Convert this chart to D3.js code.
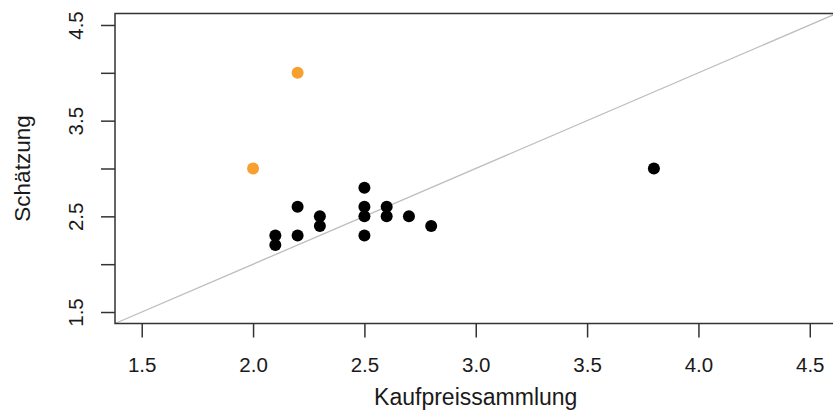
<!DOCTYPE html>
<html>
<head>
<meta charset="utf-8">
<script src="https://cdn.jsdelivr.net/npm/d3@7"></script>
<style>
  body { margin: 0; background: #fff; }
  text { font-family: "Liberation Sans", Arial, Helvetica, sans-serif; fill: #1a1a1a; }
</style>
</head>
<body>
<div class="chart"></div>
<script>
// Kaufpreissammlung vs. Schätzung
var kaufpreis  = [2.1, 2.1, 2.2, 2.2, 2.3, 2.3, 2.5, 2.5, 2.5, 2.5, 2.6, 2.6, 2.7, 2.8, 3.8];
var schaetzung = [2.3, 2.2, 2.6, 2.3, 2.5, 2.4, 2.8, 2.6, 2.5, 2.3, 2.6, 2.5, 2.5, 2.4, 3.0];

// highlighted (orange) points
var kaufpreisHi  = [2.0, 2.2];
var schaetzungHi = [3.0, 4.0];

var xTicks = [1.5, 2.0, 2.5, 3.0, 3.5, 4.0, 4.5];
var yTicks = [1.5, 2.0, 2.5, 3.0, 3.5, 4.0, 4.5];
var yLabels = [1.5, 2.5, 3.5, 4.5];

var svgWidth = 833;
var svgHeight = 412;

var margin = { top: 13.5, right: -3.5, bottom: 88.5, left: 115 };
var width = svgWidth - margin.left - margin.right;
var height = svgHeight - margin.top - margin.bottom;

var svg = d3.select(".chart")
  .append("svg")
  .attr("width", svgWidth)
  .attr("height", svgHeight);

var chartGroup = svg.append("g")
  .attr("transform", `translate(${margin.left}, ${margin.top})`);

// R style limits: 4% padding round 1.5 .. 4.5
var xScale = d3.scaleLinear().domain([1.38, 4.62]).range([0, width]);
var yScale = d3.scaleLinear().domain([1.38, 4.62]).range([height, 0]);

// diagonal y = x
chartGroup.append("line")
  .attr("x1", xScale(1.38))
  .attr("y1", yScale(1.38))
  .attr("x2", xScale(4.62))
  .attr("y2", yScale(4.62))
  .attr("stroke", "#bdbdbd")
  .attr("stroke-width", 1.3);

// axes
var bottomAxis = d3.axisBottom(xScale)
  .tickValues(xTicks)
  .tickSize(14)
  .tickFormat(d3.format(".1f"));

var leftAxis = d3.axisLeft(yScale)
  .tickValues(yTicks)
  .tickSize(14)
  .tickFormat(d => yLabels.indexOf(d) >= 0 ? d3.format(".1f")(d) : "");

var xAxis = chartGroup.append("g")
  .attr("transform", `translate(0, ${height})`)
  .call(bottomAxis);

var yAxis = chartGroup.append("g")
  .call(leftAxis);

[xAxis, yAxis].forEach(function(ax) {
  ax.select(".domain").remove();
  ax.selectAll(".tick line").attr("stroke", "#333").attr("stroke-width", 1.5);
  ax.selectAll(".tick text")
    .attr("font-family", "Liberation Sans, Arial, Helvetica, sans-serif")
    .attr("font-size", "20.5px")
    .attr("fill", "#1a1a1a");
});

xAxis.selectAll(".tick text")
  .attr("y", 48)
  .attr("dy", null);

yAxis.selectAll(".tick text")
  .attr("x", 0)
  .attr("y", -32.5)
  .attr("dy", null)
  .attr("text-anchor", "middle")
  .attr("transform", "rotate(-90)");

// plot box (right side lies just outside the window)
chartGroup.append("rect")
  .attr("x", 0)
  .attr("y", 0)
  .attr("width", width)
  .attr("height", height)
  .attr("fill", "none")
  .attr("stroke", "#333")
  .attr("stroke-width", 1.5);

// points
chartGroup.selectAll("circle.pt")
  .data(kaufpreis.map((d, i) => [d, schaetzung[i]]))
  .enter()
  .append("circle")
  .attr("class", "pt")
  .attr("cx", d => xScale(d[0]))
  .attr("cy", d => yScale(d[1]))
  .attr("r", 6)
  .attr("fill", "#000");

chartGroup.selectAll("circle.hi")
  .data(kaufpreisHi.map((d, i) => [d, schaetzungHi[i]]))
  .enter()
  .append("circle")
  .attr("class", "hi")
  .attr("cx", d => xScale(d[0]))
  .attr("cy", d => yScale(d[1]))
  .attr("r", 6)
  .attr("fill", "#f7a030");

// axis titles
svg.append("text")
  .attr("x", margin.left + (xScale(1.5) + xScale(4.5)) / 2)
  .attr("y", 405)
  .attr("text-anchor", "middle")
  .attr("font-size", "23px")
  .text("Kaufpreissammlung");

svg.append("text")
  .attr("transform", `translate(29.5, ${margin.top + height / 2}) rotate(-90)`)
  .attr("text-anchor", "middle")
  .attr("font-size", "22.5px")
  .text("Schätzung");
</script>
</body>
</html>
